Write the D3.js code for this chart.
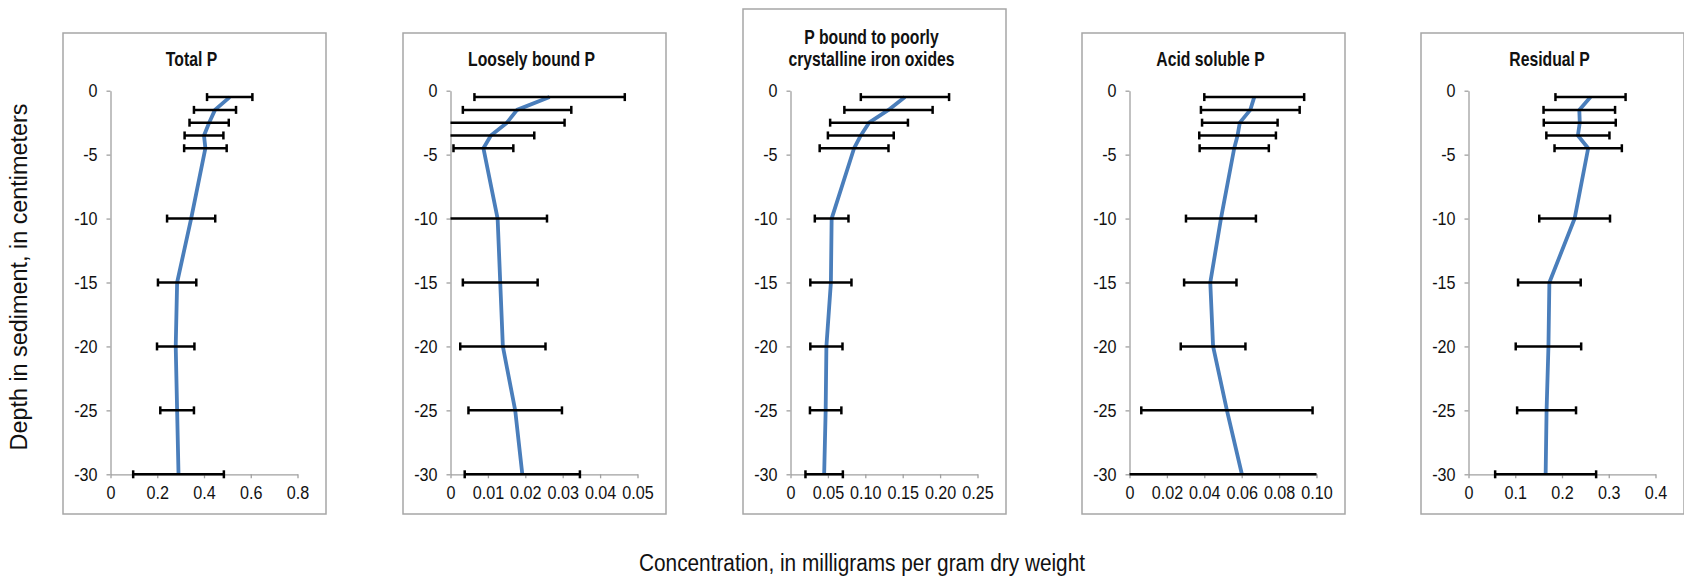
<!DOCTYPE html>
<html>
<head>
  <title>Phosphorus fractions with depth</title>
  <style>
    body, html { margin: 0; padding: 0; background: #fff; }
    svg text { font-family: "Liberation Sans", Arial, sans-serif; fill: #111; }
  </style>
</head>
<body>
  <svg id="svg" width="1684" height="579"></svg>

  <script src="https://cdn.jsdelivr.net/npm/d3@7"></script>
  <script>
    // depth of each sample, cm
    const depths = [-0.5, -1.5, -2.5, -3.5, -4.5, -10, -15, -20, -25, -30]
    const depthTicks = [0, -5, -10, -15, -20, -25, -30]

    const titles = [
      ["Total P"],
      ["Loosely bound P"],
      ["P bound to poorly", "crystalline iron oxides"],
      ["Acid soluble P"],
      ["Residual P"]
    ]

    // mg/g dry weight, mean and error
    const totalP = [0.510, 0.447, 0.422, 0.400, 0.406, 0.345, 0.285, 0.279, 0.285, 0.291]
    const totalPErr = [0.097, 0.090, 0.084, 0.083, 0.091, 0.103, 0.082, 0.080, 0.072, 0.194]
    const looseP = [0.0265, 0.0178, 0.0151, 0.0108, 0.0088, 0.0126, 0.0133, 0.0140, 0.0173, 0.0192]
    const loosePErr = [0.0201, 0.0145, 0.0154, 0.0116, 0.0080, 0.0132, 0.0100, 0.0114, 0.0125, 0.0154]
    const ironP = [0.153, 0.131, 0.105, 0.094, 0.085, 0.055, 0.054, 0.048, 0.047, 0.045]
    const ironPErr = [0.059, 0.059, 0.052, 0.044, 0.046, 0.0225, 0.0275, 0.0215, 0.021, 0.025]
    const acidP = [0.0667, 0.0646, 0.0590, 0.0578, 0.0560, 0.0489, 0.0432, 0.0447, 0.0521, 0.0601]
    const acidPErr = [0.0267, 0.0264, 0.0202, 0.0205, 0.0185, 0.0187, 0.0140, 0.0173, 0.0458, 0.0650]
    const residualP = [0.261, 0.237, 0.238, 0.234, 0.256, 0.227, 0.173, 0.171, 0.167, 0.165]
    const residualPErr = [0.075, 0.0765, 0.077, 0.0675, 0.072, 0.0757, 0.067, 0.070, 0.063, 0.108]

    const xMax = [0.8, 0.05, 0.25, 0.10, 0.4]
    const xTicks = [
      [0, 0.2, 0.4, 0.6, 0.8],
      [0, 0.01, 0.02, 0.03, 0.04, 0.05],
      [0, 0.05, 0.10, 0.15, 0.20, 0.25],
      [0, 0.02, 0.04, 0.06, 0.08, 0.10],
      [0, 0.1, 0.2, 0.3, 0.4]
    ]
    const xTickLabels = [
      ["0", "0.2", "0.4", "0.6", "0.8"],
      ["0", "0.01", "0.02", "0.03", "0.04", "0.05"],
      ["0", "0.05", "0.10", "0.15", "0.20", "0.25"],
      ["0", "0.02", "0.04", "0.06", "0.08", "0.10"],
      ["0", "0.1", "0.2", "0.3", "0.4"]
    ]

    const means = [totalP, looseP, ironP, acidP, residualP]
    const errs = [totalPErr, loosePErr, ironPErr, acidPErr, residualPErr]

    // layout
    const boxLeft = [63, 403, 743, 1082, 1421]
    const boxTop = [33, 33, 9, 33, 33]
    const boxBottom = 514
    const boxWidth = 263
    const plotOffset = 47.5
    const plotWidth = 187
    const plotTop = 90.7
    const plotBottom = 474.3
    const capHalf = 4
    const narrow = 0.75
    const tickNarrow = 0.85

    const svg = d3.select("#svg")

    const yScale = d3.scaleLinear()
      .domain([0, -30])
      .range([plotTop, plotBottom])

    function drawPanel(i) {
      const x0 = boxLeft[i] + plotOffset
      const xScale = d3.scaleLinear()
        .domain([0, xMax[i]])
        .range([x0, x0 + plotWidth])

      svg.append("rect")
        .attr("x", boxLeft[i])
        .attr("y", boxTop[i])
        .attr("width", boxWidth)
        .attr("height", boxBottom - boxTop[i])
        .attr("fill", "none")
        .attr("stroke", "#a6a6a6")
        .attr("stroke-width", 1.5)

      const g = svg.append("g")

      // title, squeezed to look condensed
      const nLines = titles[i].length
      titles[i].forEach((t, k) => {
        g.append("g")
          .attr("transform", `translate(${boxLeft[i] + boxWidth / 2 - 3},${65.5 - (nLines - 1 - k) * 22}) scale(${narrow},1)`)
          .append("text")
          .attr("text-anchor", "middle")
          .attr("font-weight", "bold")
          .attr("font-size", 21)
          .text(t)
      })

      // axes
      const yAxis = d3.axisLeft(yScale)
        .tickValues(depthTicks)
        .tickFormat(d => String(d))
        .tickSize(4)
        .tickSizeOuter(0)
        .tickPadding(9)

      const xAxis = d3.axisBottom(xScale)
        .tickValues(xTicks[i])
        .tickFormat((d, k) => xTickLabels[i][k])
        .tickSize(4)
        .tickSizeOuter(0)
        .tickPadding(7.5)

      const ya = g.append("g")
        .attr("transform", `translate(${x0},0)`)
        .call(yAxis)
      const xa = g.append("g")
        .attr("transform", `translate(0,${plotBottom})`)
        .call(xAxis)

      for (const a of [ya, xa]) {
        a.select(".domain").attr("stroke", "#a0a0a0").attr("stroke-width", 1.3)
        a.selectAll(".tick line").attr("stroke", "#a0a0a0").attr("stroke-width", 1.3)
        a.selectAll(".tick text")
          .attr("font-size", 19)
          .attr("fill", "#111")
      }
      // condensed tick labels; keep the y labels' right edge in place
      ya.selectAll(".tick text")
        .attr("x", -13 / tickNarrow)
        .attr("transform", `scale(${tickNarrow},1)`)
      xa.selectAll(".tick text")
        .attr("transform", `scale(${tickNarrow},1)`)

      const rows = depths.map((d, k) => ({ depth: d, v: means[i][k], e: errs[i][k] }))

      // mean profile
      const lineGen = d3.line()
        .x(d => xScale(d.v))
        .y(d => yScale(d.depth))
        .curve(d3.curveLinear)

      g.append("path")
        .attr("d", lineGen(rows))
        .attr("fill", "none")
        .attr("stroke", "#4a7ebb")
        .attr("stroke-width", 3.8)
        .attr("stroke-linejoin", "round")

      // error bars, clipped to the axis range
      const bars = g.append("g")
        .attr("stroke", "#000")
        .attr("stroke-width", 2.5)

      rows.forEach(r => {
        const lo = r.v - r.e
        const hi = r.v + r.e
        const loC = Math.max(lo, 0)
        const hiC = Math.min(hi, xMax[i])
        const y = yScale(r.depth)
        bars.append("line")
          .attr("x1", xScale(loC)).attr("x2", xScale(hiC))
          .attr("y1", y).attr("y2", y)
        if (lo >= 0) {
          bars.append("line")
            .attr("x1", xScale(lo)).attr("x2", xScale(lo))
            .attr("y1", y - capHalf).attr("y2", y + capHalf)
        }
        if (hi <= xMax[i]) {
          bars.append("line")
            .attr("x1", xScale(hi)).attr("x2", xScale(hi))
            .attr("y1", y - capHalf).attr("y2", y + capHalf)
        }
      })
    }

    d3.range(5).forEach(drawPanel)

    svg.append("text")
      .attr("x", 862)
      .attr("y", 571)
      .attr("text-anchor", "middle")
      .attr("font-size", 23)
      .attr("textLength", 446)
      .attr("lengthAdjust", "spacingAndGlyphs")
      .text("Concentration, in milligrams per gram dry weight")

    svg.append("text")
      .attr("transform", "translate(27,277) rotate(-90)")
      .attr("text-anchor", "middle")
      .attr("font-size", 23)
      .attr("textLength", 347)
      .attr("lengthAdjust", "spacingAndGlyphs")
      .text("Depth in sediment, in centimeters")
  </script>
</body>
</html>
